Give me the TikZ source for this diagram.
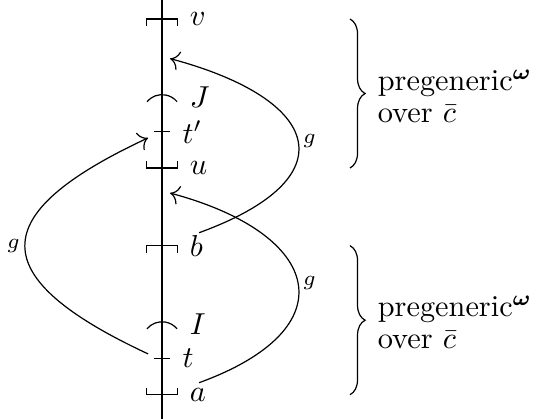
\documentclass[tikz,border=0pt]{standalone}
\usepackage{amsmath, amssymb}
\usepackage{tikz}
\usetikzlibrary{arrows.meta, decorations.pathreplacing}

\begin{document}
\begin{tikzpicture}[
    lbl/.style={anchor=west},
    arr/.style={-{To[length=3pt]}},
    gl/.style={font=\scriptsize, inner sep=1.5pt},
    brace/.style={decorate, decoration={brace, amplitude=5pt}},
    txt/.style={align=left, right=0.2cm, yshift=-0.03cm}
]
\useasboundingbox (-1.88,0) rectangle (4.35,4.86);

%% ── Axis ───────────────────────────────────────────────────────────────
\coordinate (bot) at (0,0);
\coordinate (top) at (0,4.86);
\draw (bot) -- (top);

%% ── Points on the axis ─────────────────────────────────────────────────
\coordinate (v)  at (0,4.64);
\coordinate (J)  at (0,3.735);
\coordinate (tp) at (0,3.33);
\coordinate (u)  at (0,2.91);
\coordinate (b)  at (0,2.01);
\coordinate (I)  at (0,1.10);
\coordinate (t)  at (0,0.70);
\coordinate (a)  at (0,0.28);

%% ── Marks ──────────────────────────────────────────────────────────────
\draw ([shift={(-0.177,-0.08)}]v) -- ++(0,0.08) -- ++(0.354,0) -- ++(0,-0.08);
\draw ([shift={(-0.177,-0.08)}]b) -- ++(0,0.08) -- ++(0.354,0) -- ++(0,-0.08);
\draw ([shift={(-0.177,0.08)}]u) -- ++(0,-0.08) -- ++(0.354,0) -- ++(0,0.08);
\draw ([shift={(-0.177,0.08)}]a) -- ++(0,-0.08) -- ++(0.354,0) -- ++(0,0.08);
\draw ([shift={(-0.175,-0.055)}]J) arc[start angle=140, end angle=40, radius=0.228];
\draw ([shift={(-0.175,-0.055)}]I) arc[start angle=140, end angle=40, radius=0.228];
\draw ([xshift=-0.09cm]tp) -- ([xshift=0.09cm]tp);
\draw ([xshift=-0.09cm]t)  -- ([xshift=0.09cm]t);

%% ── Labels ─────────────────────────────────────────────────────────────
\node[lbl] (vl)  at ([xshift=0.2cm]v)    {$v$};
\node[lbl] (Jl)  at ([xshift=0.2cm]J)    {$J$};
\node[lbl] (tpl) at ([xshift=0.116cm]tp) {$t'$};
\node[lbl] (ul)  at ([xshift=0.2cm]u)    {$u$};
\node[lbl] (bl)  at ([xshift=0.2cm]b)    {$b$};
\node[lbl] (Il)  at ([xshift=0.2cm]I)    {$I$};
\node[lbl] (tl)  at ([xshift=0.116cm]t)  {$t$};
\node[lbl] (al)  at ([xshift=0.2cm]a)    {$a$};

%% ── The maps g ─────────────────────────────────────────────────────────
\coordinate (g1s) at (0.43,2.16);   \coordinate (g1e) at (0.093,4.18);
\coordinate (g2s) at (0.43,0.42);   \coordinate (g2e) at (0.093,2.62);
\coordinate (g3s) at (-0.162,0.754); \coordinate (g3e) at (-0.162,3.26);
\draw[arr] (g1s) to[out=20, in=-15, looseness=2.3]
      node[right, gl] (g1) {$g$} (g1e);
\draw[arr] (g2s) to[out=20, in=-15, looseness=2.12]
      node[right, gl] (g2) {$g$} (g2e);
\draw[arr] (g3s) to[out=155, in=-155, looseness=2.15]
      node[left, gl] (g3) {$g$} (g3e);

%% ── Braces ─────────────────────────────────────────────────────────────
\draw[brace] ([xshift=2.18cm]v) -- ([xshift=2.18cm]u)
      node[midway, txt] (p1) {pregeneric$^{\boldsymbol{\omega}}$\\[-1.5pt]over $\bar{c}$};
\draw[brace] ([xshift=2.18cm]b) -- ([xshift=2.18cm]a)
      node[midway, txt] (p2) {pregeneric$^{\boldsymbol{\omega}}$\\[-1.5pt]over $\bar{c}$};
\end{tikzpicture}
\end{document}
